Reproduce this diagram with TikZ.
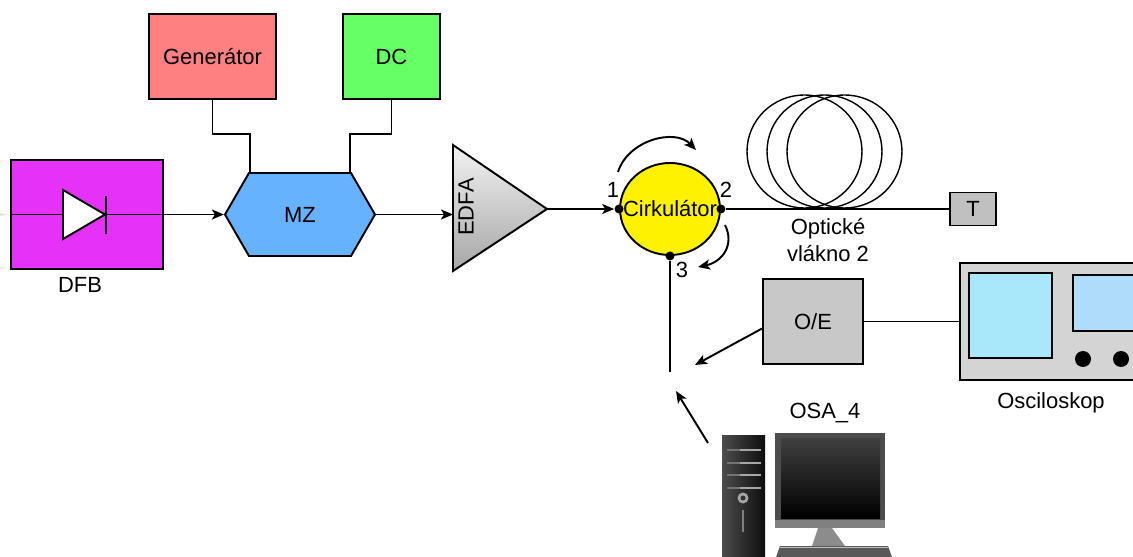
\documentclass[tikz,border=0pt]{standalone}
\usepackage{fontspec}
\setmainfont{Liberation Sans}
\usetikzlibrary{shapes.geometric,shapes.symbols,arrows.meta}
\definecolor{dfbmag}{RGB}{230,50,248}
\definecolor{genred}{RGB}{255,128,128}
\definecolor{dcgreen}{RGB}{102,255,102}
\definecolor{mzblue}{RGB}{102,178,255}
\definecolor{termgray}{RGB}{192,192,192}
\definecolor{oegray}{RGB}{200,200,200}
\definecolor{oscgray}{RGB}{212,212,212}
\definecolor{screenA}{RGB}{168,232,250}
\definecolor{screenB}{RGB}{174,220,250}

\begin{document}
\begin{tikzpicture}[x=0.02cm,y=-0.02cm,
    every node/.style={font=\fontsize{12.5}{15}\selectfont},
    box/.style={draw,line width=1.1pt,inner sep=0pt},
    port/.style={circle,fill,inner sep=0pt,minimum size=0.18cm},
    sig/.style={line width=1.1pt},
    coil/.style={line width=0.8pt},
    >={Stealth[length=0.24cm,width=0.2cm,inset=0.06cm]}]

  \useasboundingbox (0,0) rectangle (1133,557);
  \clip (0,0) rectangle (1133,557);

  \node[box,fill=dfbmag,minimum width=3.04cm,minimum height=2.18cm] (dfb) at (87,214.5) {};
  \node (dfblabel) at (80,285) {DFB};
  \draw[sig] (dfb.west) -- (dfb.east);
  \draw[sig,fill=white] (63,190) -- (105,214.5) -- (63,239) -- cycle;
  \draw[sig] (106,196) -- (106,234);

  \node[box,fill=genred,minimum width=2.54cm,minimum height=1.7cm] (gen) at (212.5,56.5) {Generátor};
  \node[box,fill=dcgreen,minimum width=1.94cm,minimum height=1.7cm] (dc) at (391.5,56.5) {DC};
  \node[box,fill=mzblue,signal,signal to=west and east,signal pointer angle=120,
        minimum width=3cm,minimum height=1.66cm] (mz) at (300,214.5) {MZ};
  \draw[sig] (gen.south) -- ++(0,34) -| ([xshift=-1cm]mz.north);
  \draw[sig] (dc.south) -- ++(0,34) -| ([xshift=1cm]mz.north);
  \draw[sig,->] (dfb.east) -- (mz.west);

  \coordinate (edfain) at (453,214.5);
  \coordinate (edfaout) at (547,209);
  \draw[sig,top color=black!5,bottom color=black!35] (453,145) -- (edfaout) -- (453,271) -- cycle;
  \node[rotate=90] (edfa) at (466,207) {EDFA};
  \draw[sig,->] (mz.east) -- (edfain);

  \node[box,ellipse,fill=yellow,minimum width=2cm,minimum height=1.84cm] (circ) at (670,209) {};
  \node (circlabel) at (circ) {Cirkulátor};
  \node[port] (p1) at (circ.west) {};
  \node[port] (p2) at (circ.east) {};
  \node[port] (p3) at (circ.south) {};
  \node (n1) at (613,190) {1};
  \node (n2) at (726,190) {2};
  \node (n3) at (682,270) {3};
  \draw[sig,->] (edfaout) -- (p1);
  \draw[sig,->] (618,172) .. controls (628,140) and (675,128) .. (696,150);
  \draw[sig,->] (725,225) .. controls (735,245) and (722,262) .. (698,267);

  \foreach \cx in {804.5,824.5,844.5}
    \draw[coil] (\cx,151.5) ellipse[x radius=1.15cm,y radius=1.13cm];
  \node[box,fill=termgray,minimum width=0.92cm,minimum height=0.66cm] (term) at (973,209) {T};
  \draw[sig] (p2) -- (term.west);
  \node[align=center] (fibre) at (828,240) {Optické\\vlákno 2};

  \coordinate (tap) at (670,372);
  \draw[sig] (p3) -- (tap);

  \node[box,fill=oegray,minimum width=2cm,minimum height=1.7cm] (oe) at (813,321.5) {O/E};
  \node[box,fill=oscgray,minimum width=3.7cm,minimum height=2.34cm] (osc) at (1052.5,321.5) {};
  \draw[sig] (oe.east) -- (osc.west);
  \draw[box,fill=screenA] (969,273) rectangle (1052,358);
  \draw[box,fill=screenB] (1073,275) rectangle (1140,331);
  \fill (1083,359) circle[radius=0.16cm];
  \fill (1121,359) circle[radius=0.16cm];
  \node (osclabel) at (1051,403) {Osciloskop};
  \coordinate (oeout) at (695,365);
  \draw[sig,->] ([yshift=-0.14cm]oe.west) -- (oeout);

  \node (osa) at (825,413) {OSA\_4};
  \coordinate (pctop) at (708,443);
  \coordinate (osain) at (676,391);
  \draw[sig,->] (pctop) -- (osain);

  \shade[left color=black!70,right color=black!95] (722,435) rectangle (765,560);
  \foreach \sy in {450,463,475,488} {
    \draw[black!55,line width=1.2pt] (727,\sy) -- (740,\sy);
    \draw[black!35,line width=1.2pt] (740,\sy) -- (761,\sy);
  }
  \fill[black!35] (743,498) circle[radius=0.11cm];
  \fill[black!80] (743,498) circle[radius=0.05cm];
  \draw[black!50,line width=1.5pt] (743,510) -- (743,532);
  \fill[black!70] (775,433) rectangle (885,528);
  \shade[top color=black!75,bottom color=black] (781,438) rectangle (880,518);
  \fill[black!50] (775,520) rectangle (885,528);
  \fill[black!45] (818,528) -- (832,528) -- (845,546) -- (812,546) -- cycle;
  \fill[black!65] (780,546) -- (888,546) -- (893,560) -- (775,560) -- cycle;
  \draw[black!25] (780,547) -- (888,547);
\end{tikzpicture}
\end{document}
